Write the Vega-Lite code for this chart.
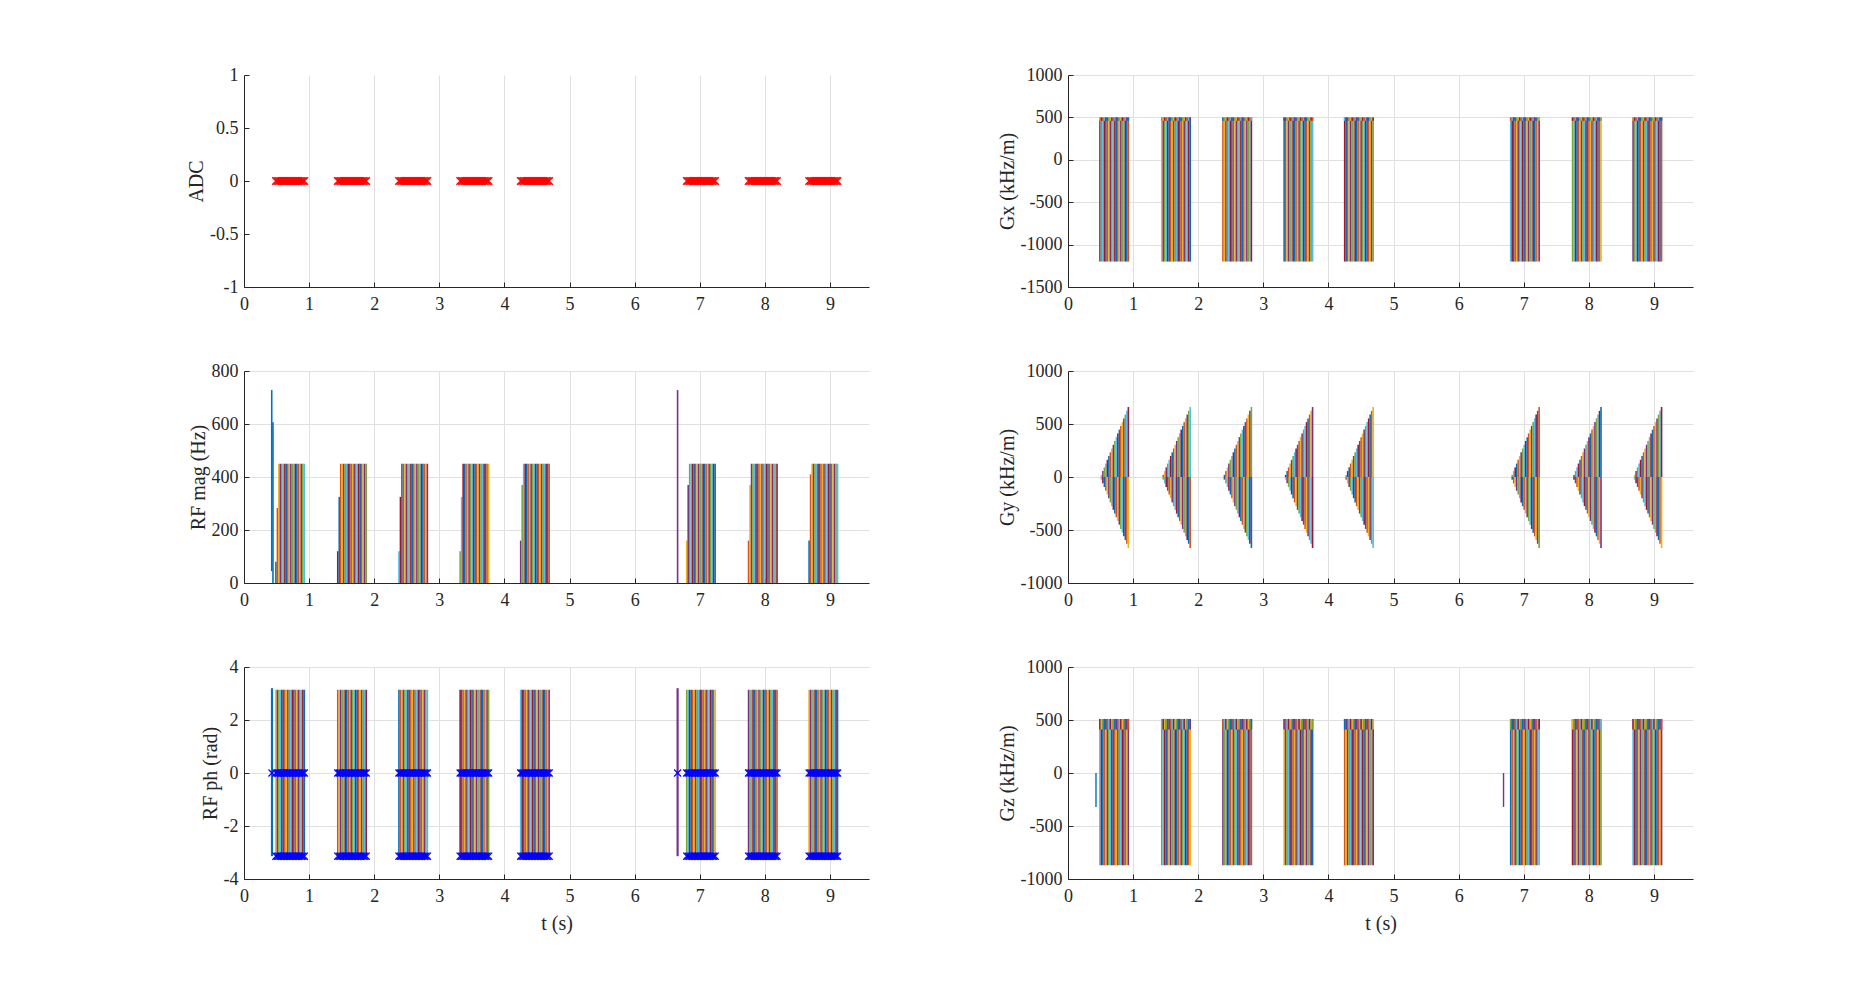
{
"$schema":"https://vega.github.io/schema/vega-lite/v6.json",
"background":"white",
"padding":{"left":186,"top":66,"right":5,"bottom":5},
"config":{
 "font":"Liberation Serif",
 "view":{"stroke":null},
 "axis":{"labelFont":"Liberation Serif","titleFont":"Liberation Serif","labelFontSize":18,"titleFontSize":20,"titleFontWeight":"normal","labelColor":"#262626","titleColor":"#262626","domainColor":"#262626","tickColor":"#262626","gridColor":"#e0e0e0","tickSize":-5,"domainWidth":1,"tickWidth":1,"gridWidth":1,"labelFlush":false},
 "axisX":{"labelPadding":13,"titlePadding":8},
 "axisY":{"labelPadding":11,"titlePadding":3}
},
"datasets":{
"seq":[
{"t":0.490,"s":0,"xl":-1200,"xh":500,"g":0,"gn":0,"zl":-870,"zh":510,"m":80,"pl":-3.14,"ph":3.14},
{"t":0.513,"s":1,"xl":-1200,"xh":500,"g":20,"gn":-25,"zl":-870,"zh":510,"m":283,"pl":-3.14,"ph":3.14},
{"t":0.536,"s":2,"xl":-1200,"xh":500,"g":56,"gn":-60,"zl":-870,"zh":510,"m":450,"pl":-3.14,"ph":3.14},
{"t":0.559,"s":3,"xl":-1200,"xh":500,"g":91,"gn":-95,"zl":-870,"zh":510,"m":450,"pl":-3.14,"ph":3.14},
{"t":0.582,"s":4,"xl":-1200,"xh":500,"g":127,"gn":-130,"zl":-870,"zh":510,"m":450,"pl":-3.14,"ph":3.14},
{"t":0.605,"s":5,"xl":-1200,"xh":500,"g":162,"gn":-165,"zl":-870,"zh":510,"m":450,"pl":-3.14,"ph":3.14},
{"t":0.628,"s":6,"xl":-1200,"xh":500,"g":198,"gn":-200,"zl":-870,"zh":510,"m":450,"pl":-3.14,"ph":3.14},
{"t":0.651,"s":0,"xl":-1200,"xh":500,"g":233,"gn":-240,"zl":-870,"zh":510,"m":450,"pl":-3.14,"ph":3.14},
{"t":0.674,"s":1,"xl":-1200,"xh":500,"g":269,"gn":-275,"zl":-870,"zh":510,"m":450,"pl":-3.14,"ph":3.14},
{"t":0.697,"s":2,"xl":-1200,"xh":500,"g":304,"gn":-310,"zl":-870,"zh":510,"m":450,"pl":-3.14,"ph":3.14},
{"t":0.720,"s":3,"xl":-1200,"xh":500,"g":340,"gn":-345,"zl":-870,"zh":510,"m":450,"pl":-3.14,"ph":3.14},
{"t":0.743,"s":4,"xl":-1200,"xh":500,"g":376,"gn":-380,"zl":-870,"zh":510,"m":450,"pl":-3.14,"ph":3.14},
{"t":0.766,"s":5,"xl":-1200,"xh":500,"g":411,"gn":-415,"zl":-870,"zh":510,"m":450,"pl":-3.14,"ph":3.14},
{"t":0.789,"s":6,"xl":-1200,"xh":500,"g":447,"gn":-450,"zl":-870,"zh":510,"m":450,"pl":-3.14,"ph":3.14},
{"t":0.812,"s":0,"xl":-1200,"xh":500,"g":482,"gn":-490,"zl":-870,"zh":510,"m":450,"pl":-3.14,"ph":3.14},
{"t":0.835,"s":1,"xl":-1200,"xh":500,"g":518,"gn":-525,"zl":-870,"zh":510,"m":450,"pl":-3.14,"ph":3.14},
{"t":0.858,"s":2,"xl":-1200,"xh":500,"g":553,"gn":-560,"zl":-870,"zh":510,"m":450,"pl":-3.14,"ph":3.14},
{"t":0.881,"s":3,"xl":-1200,"xh":500,"g":589,"gn":-595,"zl":-870,"zh":510,"m":450,"pl":-3.14,"ph":3.14},
{"t":0.904,"s":4,"xl":-1200,"xh":500,"g":624,"gn":-630,"zl":-870,"zh":510,"m":450,"pl":-3.14,"ph":3.14},
{"t":0.927,"s":5,"xl":-1200,"xh":500,"g":660,"gn":-670,"zl":-870,"zh":510,"m":450,"pl":-3.14,"ph":3.14},
{"t":1.440,"s":6,"xl":-1200,"xh":500,"g":0,"gn":0,"zl":-870,"zh":510,"m":120,"pl":-3.14,"ph":3.14},
{"t":1.463,"s":0,"xl":-1200,"xh":500,"g":20,"gn":-25,"zl":-870,"zh":510,"m":325,"pl":-3.14,"ph":3.14},
{"t":1.486,"s":1,"xl":-1200,"xh":500,"g":56,"gn":-60,"zl":-870,"zh":510,"m":450,"pl":-3.14,"ph":3.14},
{"t":1.509,"s":2,"xl":-1200,"xh":500,"g":91,"gn":-95,"zl":-870,"zh":510,"m":450,"pl":-3.14,"ph":3.14},
{"t":1.532,"s":3,"xl":-1200,"xh":500,"g":127,"gn":-130,"zl":-870,"zh":510,"m":450,"pl":-3.14,"ph":3.14},
{"t":1.555,"s":4,"xl":-1200,"xh":500,"g":162,"gn":-165,"zl":-870,"zh":510,"m":450,"pl":-3.14,"ph":3.14},
{"t":1.578,"s":5,"xl":-1200,"xh":500,"g":198,"gn":-200,"zl":-870,"zh":510,"m":450,"pl":-3.14,"ph":3.14},
{"t":1.601,"s":6,"xl":-1200,"xh":500,"g":233,"gn":-240,"zl":-870,"zh":510,"m":450,"pl":-3.14,"ph":3.14},
{"t":1.624,"s":0,"xl":-1200,"xh":500,"g":269,"gn":-275,"zl":-870,"zh":510,"m":450,"pl":-3.14,"ph":3.14},
{"t":1.647,"s":1,"xl":-1200,"xh":500,"g":304,"gn":-310,"zl":-870,"zh":510,"m":450,"pl":-3.14,"ph":3.14},
{"t":1.670,"s":2,"xl":-1200,"xh":500,"g":340,"gn":-345,"zl":-870,"zh":510,"m":450,"pl":-3.14,"ph":3.14},
{"t":1.693,"s":3,"xl":-1200,"xh":500,"g":376,"gn":-380,"zl":-870,"zh":510,"m":450,"pl":-3.14,"ph":3.14},
{"t":1.716,"s":4,"xl":-1200,"xh":500,"g":411,"gn":-415,"zl":-870,"zh":510,"m":450,"pl":-3.14,"ph":3.14},
{"t":1.739,"s":5,"xl":-1200,"xh":500,"g":447,"gn":-450,"zl":-870,"zh":510,"m":450,"pl":-3.14,"ph":3.14},
{"t":1.762,"s":6,"xl":-1200,"xh":500,"g":482,"gn":-490,"zl":-870,"zh":510,"m":450,"pl":-3.14,"ph":3.14},
{"t":1.785,"s":0,"xl":-1200,"xh":500,"g":518,"gn":-525,"zl":-870,"zh":510,"m":450,"pl":-3.14,"ph":3.14},
{"t":1.808,"s":1,"xl":-1200,"xh":500,"g":553,"gn":-560,"zl":-870,"zh":510,"m":450,"pl":-3.14,"ph":3.14},
{"t":1.831,"s":2,"xl":-1200,"xh":500,"g":589,"gn":-595,"zl":-870,"zh":510,"m":450,"pl":-3.14,"ph":3.14},
{"t":1.854,"s":3,"xl":-1200,"xh":500,"g":624,"gn":-630,"zl":-870,"zh":510,"m":450,"pl":-3.14,"ph":3.14},
{"t":1.877,"s":4,"xl":-1200,"xh":500,"g":660,"gn":-670,"zl":-870,"zh":510,"m":450,"pl":-3.14,"ph":3.14},
{"t":2.380,"s":5,"xl":-1200,"xh":500,"g":0,"gn":0,"zl":-870,"zh":510,"m":120,"pl":-3.14,"ph":3.14},
{"t":2.403,"s":6,"xl":-1200,"xh":500,"g":20,"gn":-25,"zl":-870,"zh":510,"m":325,"pl":-3.14,"ph":3.14},
{"t":2.426,"s":0,"xl":-1200,"xh":500,"g":56,"gn":-60,"zl":-870,"zh":510,"m":450,"pl":-3.14,"ph":3.14},
{"t":2.449,"s":1,"xl":-1200,"xh":500,"g":91,"gn":-95,"zl":-870,"zh":510,"m":450,"pl":-3.14,"ph":3.14},
{"t":2.472,"s":2,"xl":-1200,"xh":500,"g":127,"gn":-130,"zl":-870,"zh":510,"m":450,"pl":-3.14,"ph":3.14},
{"t":2.495,"s":3,"xl":-1200,"xh":500,"g":162,"gn":-165,"zl":-870,"zh":510,"m":450,"pl":-3.14,"ph":3.14},
{"t":2.518,"s":4,"xl":-1200,"xh":500,"g":198,"gn":-200,"zl":-870,"zh":510,"m":450,"pl":-3.14,"ph":3.14},
{"t":2.541,"s":5,"xl":-1200,"xh":500,"g":233,"gn":-240,"zl":-870,"zh":510,"m":450,"pl":-3.14,"ph":3.14},
{"t":2.564,"s":6,"xl":-1200,"xh":500,"g":269,"gn":-275,"zl":-870,"zh":510,"m":450,"pl":-3.14,"ph":3.14},
{"t":2.587,"s":0,"xl":-1200,"xh":500,"g":304,"gn":-310,"zl":-870,"zh":510,"m":450,"pl":-3.14,"ph":3.14},
{"t":2.610,"s":1,"xl":-1200,"xh":500,"g":340,"gn":-345,"zl":-870,"zh":510,"m":450,"pl":-3.14,"ph":3.14},
{"t":2.633,"s":2,"xl":-1200,"xh":500,"g":376,"gn":-380,"zl":-870,"zh":510,"m":450,"pl":-3.14,"ph":3.14},
{"t":2.656,"s":3,"xl":-1200,"xh":500,"g":411,"gn":-415,"zl":-870,"zh":510,"m":450,"pl":-3.14,"ph":3.14},
{"t":2.679,"s":4,"xl":-1200,"xh":500,"g":447,"gn":-450,"zl":-870,"zh":510,"m":450,"pl":-3.14,"ph":3.14},
{"t":2.702,"s":5,"xl":-1200,"xh":500,"g":482,"gn":-490,"zl":-870,"zh":510,"m":450,"pl":-3.14,"ph":3.14},
{"t":2.725,"s":6,"xl":-1200,"xh":500,"g":518,"gn":-525,"zl":-870,"zh":510,"m":450,"pl":-3.14,"ph":3.14},
{"t":2.748,"s":0,"xl":-1200,"xh":500,"g":553,"gn":-560,"zl":-870,"zh":510,"m":450,"pl":-3.14,"ph":3.14},
{"t":2.771,"s":1,"xl":-1200,"xh":500,"g":589,"gn":-595,"zl":-870,"zh":510,"m":450,"pl":-3.14,"ph":3.14},
{"t":2.794,"s":2,"xl":-1200,"xh":500,"g":624,"gn":-630,"zl":-870,"zh":510,"m":450,"pl":-3.14,"ph":3.14},
{"t":2.817,"s":3,"xl":-1200,"xh":500,"g":660,"gn":-670,"zl":-870,"zh":510,"m":450,"pl":-3.14,"ph":3.14},
{"t":3.320,"s":4,"xl":-1200,"xh":500,"g":0,"gn":0,"zl":-870,"zh":510,"m":120,"pl":-3.14,"ph":3.14},
{"t":3.343,"s":5,"xl":-1200,"xh":500,"g":20,"gn":-25,"zl":-870,"zh":510,"m":325,"pl":-3.14,"ph":3.14},
{"t":3.366,"s":6,"xl":-1200,"xh":500,"g":56,"gn":-60,"zl":-870,"zh":510,"m":450,"pl":-3.14,"ph":3.14},
{"t":3.389,"s":0,"xl":-1200,"xh":500,"g":91,"gn":-95,"zl":-870,"zh":510,"m":450,"pl":-3.14,"ph":3.14},
{"t":3.412,"s":1,"xl":-1200,"xh":500,"g":127,"gn":-130,"zl":-870,"zh":510,"m":450,"pl":-3.14,"ph":3.14},
{"t":3.435,"s":2,"xl":-1200,"xh":500,"g":162,"gn":-165,"zl":-870,"zh":510,"m":450,"pl":-3.14,"ph":3.14},
{"t":3.458,"s":3,"xl":-1200,"xh":500,"g":198,"gn":-200,"zl":-870,"zh":510,"m":450,"pl":-3.14,"ph":3.14},
{"t":3.481,"s":4,"xl":-1200,"xh":500,"g":233,"gn":-240,"zl":-870,"zh":510,"m":450,"pl":-3.14,"ph":3.14},
{"t":3.504,"s":5,"xl":-1200,"xh":500,"g":269,"gn":-275,"zl":-870,"zh":510,"m":450,"pl":-3.14,"ph":3.14},
{"t":3.527,"s":6,"xl":-1200,"xh":500,"g":304,"gn":-310,"zl":-870,"zh":510,"m":450,"pl":-3.14,"ph":3.14},
{"t":3.550,"s":0,"xl":-1200,"xh":500,"g":340,"gn":-345,"zl":-870,"zh":510,"m":450,"pl":-3.14,"ph":3.14},
{"t":3.573,"s":1,"xl":-1200,"xh":500,"g":376,"gn":-380,"zl":-870,"zh":510,"m":450,"pl":-3.14,"ph":3.14},
{"t":3.596,"s":2,"xl":-1200,"xh":500,"g":411,"gn":-415,"zl":-870,"zh":510,"m":450,"pl":-3.14,"ph":3.14},
{"t":3.619,"s":3,"xl":-1200,"xh":500,"g":447,"gn":-450,"zl":-870,"zh":510,"m":450,"pl":-3.14,"ph":3.14},
{"t":3.642,"s":4,"xl":-1200,"xh":500,"g":482,"gn":-490,"zl":-870,"zh":510,"m":450,"pl":-3.14,"ph":3.14},
{"t":3.665,"s":5,"xl":-1200,"xh":500,"g":518,"gn":-525,"zl":-870,"zh":510,"m":450,"pl":-3.14,"ph":3.14},
{"t":3.688,"s":6,"xl":-1200,"xh":500,"g":553,"gn":-560,"zl":-870,"zh":510,"m":450,"pl":-3.14,"ph":3.14},
{"t":3.711,"s":0,"xl":-1200,"xh":500,"g":589,"gn":-595,"zl":-870,"zh":510,"m":450,"pl":-3.14,"ph":3.14},
{"t":3.734,"s":1,"xl":-1200,"xh":500,"g":624,"gn":-630,"zl":-870,"zh":510,"m":450,"pl":-3.14,"ph":3.14},
{"t":3.757,"s":2,"xl":-1200,"xh":500,"g":660,"gn":-670,"zl":-870,"zh":510,"m":450,"pl":-3.14,"ph":3.14},
{"t":4.250,"s":3,"xl":-1200,"xh":500,"g":0,"gn":0,"zl":-870,"zh":510,"m":160,"pl":-3.14,"ph":3.14},
{"t":4.273,"s":4,"xl":-1200,"xh":500,"g":20,"gn":-25,"zl":-870,"zh":510,"m":370,"pl":-3.14,"ph":3.14},
{"t":4.296,"s":5,"xl":-1200,"xh":500,"g":56,"gn":-60,"zl":-870,"zh":510,"m":450,"pl":-3.14,"ph":3.14},
{"t":4.319,"s":6,"xl":-1200,"xh":500,"g":91,"gn":-95,"zl":-870,"zh":510,"m":450,"pl":-3.14,"ph":3.14},
{"t":4.342,"s":0,"xl":-1200,"xh":500,"g":127,"gn":-130,"zl":-870,"zh":510,"m":450,"pl":-3.14,"ph":3.14},
{"t":4.365,"s":1,"xl":-1200,"xh":500,"g":162,"gn":-165,"zl":-870,"zh":510,"m":450,"pl":-3.14,"ph":3.14},
{"t":4.388,"s":2,"xl":-1200,"xh":500,"g":198,"gn":-200,"zl":-870,"zh":510,"m":450,"pl":-3.14,"ph":3.14},
{"t":4.411,"s":3,"xl":-1200,"xh":500,"g":233,"gn":-240,"zl":-870,"zh":510,"m":450,"pl":-3.14,"ph":3.14},
{"t":4.434,"s":4,"xl":-1200,"xh":500,"g":269,"gn":-275,"zl":-870,"zh":510,"m":450,"pl":-3.14,"ph":3.14},
{"t":4.457,"s":5,"xl":-1200,"xh":500,"g":304,"gn":-310,"zl":-870,"zh":510,"m":450,"pl":-3.14,"ph":3.14},
{"t":4.480,"s":6,"xl":-1200,"xh":500,"g":340,"gn":-345,"zl":-870,"zh":510,"m":450,"pl":-3.14,"ph":3.14},
{"t":4.503,"s":0,"xl":-1200,"xh":500,"g":376,"gn":-380,"zl":-870,"zh":510,"m":450,"pl":-3.14,"ph":3.14},
{"t":4.526,"s":1,"xl":-1200,"xh":500,"g":411,"gn":-415,"zl":-870,"zh":510,"m":450,"pl":-3.14,"ph":3.14},
{"t":4.549,"s":2,"xl":-1200,"xh":500,"g":447,"gn":-450,"zl":-870,"zh":510,"m":450,"pl":-3.14,"ph":3.14},
{"t":4.572,"s":3,"xl":-1200,"xh":500,"g":482,"gn":-490,"zl":-870,"zh":510,"m":450,"pl":-3.14,"ph":3.14},
{"t":4.595,"s":4,"xl":-1200,"xh":500,"g":518,"gn":-525,"zl":-870,"zh":510,"m":450,"pl":-3.14,"ph":3.14},
{"t":4.618,"s":5,"xl":-1200,"xh":500,"g":553,"gn":-560,"zl":-870,"zh":510,"m":450,"pl":-3.14,"ph":3.14},
{"t":4.641,"s":6,"xl":-1200,"xh":500,"g":589,"gn":-595,"zl":-870,"zh":510,"m":450,"pl":-3.14,"ph":3.14},
{"t":4.664,"s":0,"xl":-1200,"xh":500,"g":624,"gn":-630,"zl":-870,"zh":510,"m":450,"pl":-3.14,"ph":3.14},
{"t":4.687,"s":1,"xl":-1200,"xh":500,"g":660,"gn":-670,"zl":-870,"zh":510,"m":450,"pl":-3.14,"ph":3.14},
{"t":6.800,"s":2,"xl":-1200,"xh":500,"g":0,"gn":0,"zl":-870,"zh":510,"m":160,"pl":-3.14,"ph":3.14},
{"t":6.823,"s":3,"xl":-1200,"xh":500,"g":20,"gn":-25,"zl":-870,"zh":510,"m":370,"pl":-3.14,"ph":3.14},
{"t":6.846,"s":4,"xl":-1200,"xh":500,"g":56,"gn":-60,"zl":-870,"zh":510,"m":450,"pl":-3.14,"ph":3.14},
{"t":6.869,"s":5,"xl":-1200,"xh":500,"g":91,"gn":-95,"zl":-870,"zh":510,"m":450,"pl":-3.14,"ph":3.14},
{"t":6.892,"s":6,"xl":-1200,"xh":500,"g":127,"gn":-130,"zl":-870,"zh":510,"m":450,"pl":-3.14,"ph":3.14},
{"t":6.915,"s":0,"xl":-1200,"xh":500,"g":162,"gn":-165,"zl":-870,"zh":510,"m":450,"pl":-3.14,"ph":3.14},
{"t":6.938,"s":1,"xl":-1200,"xh":500,"g":198,"gn":-200,"zl":-870,"zh":510,"m":450,"pl":-3.14,"ph":3.14},
{"t":6.961,"s":2,"xl":-1200,"xh":500,"g":233,"gn":-240,"zl":-870,"zh":510,"m":450,"pl":-3.14,"ph":3.14},
{"t":6.984,"s":3,"xl":-1200,"xh":500,"g":269,"gn":-275,"zl":-870,"zh":510,"m":450,"pl":-3.14,"ph":3.14},
{"t":7.007,"s":4,"xl":-1200,"xh":500,"g":304,"gn":-310,"zl":-870,"zh":510,"m":450,"pl":-3.14,"ph":3.14},
{"t":7.030,"s":5,"xl":-1200,"xh":500,"g":340,"gn":-345,"zl":-870,"zh":510,"m":450,"pl":-3.14,"ph":3.14},
{"t":7.053,"s":6,"xl":-1200,"xh":500,"g":376,"gn":-380,"zl":-870,"zh":510,"m":450,"pl":-3.14,"ph":3.14},
{"t":7.076,"s":0,"xl":-1200,"xh":500,"g":411,"gn":-415,"zl":-870,"zh":510,"m":450,"pl":-3.14,"ph":3.14},
{"t":7.099,"s":1,"xl":-1200,"xh":500,"g":447,"gn":-450,"zl":-870,"zh":510,"m":450,"pl":-3.14,"ph":3.14},
{"t":7.122,"s":2,"xl":-1200,"xh":500,"g":482,"gn":-490,"zl":-870,"zh":510,"m":450,"pl":-3.14,"ph":3.14},
{"t":7.145,"s":3,"xl":-1200,"xh":500,"g":518,"gn":-525,"zl":-870,"zh":510,"m":450,"pl":-3.14,"ph":3.14},
{"t":7.168,"s":4,"xl":-1200,"xh":500,"g":553,"gn":-560,"zl":-870,"zh":510,"m":450,"pl":-3.14,"ph":3.14},
{"t":7.191,"s":5,"xl":-1200,"xh":500,"g":589,"gn":-595,"zl":-870,"zh":510,"m":450,"pl":-3.14,"ph":3.14},
{"t":7.214,"s":6,"xl":-1200,"xh":500,"g":624,"gn":-630,"zl":-870,"zh":510,"m":450,"pl":-3.14,"ph":3.14},
{"t":7.237,"s":0,"xl":-1200,"xh":500,"g":660,"gn":-670,"zl":-870,"zh":510,"m":450,"pl":-3.14,"ph":3.14},
{"t":7.750,"s":1,"xl":-1200,"xh":500,"g":0,"gn":0,"zl":-870,"zh":510,"m":160,"pl":-3.14,"ph":3.14},
{"t":7.773,"s":2,"xl":-1200,"xh":500,"g":20,"gn":-25,"zl":-870,"zh":510,"m":370,"pl":-3.14,"ph":3.14},
{"t":7.796,"s":3,"xl":-1200,"xh":500,"g":56,"gn":-60,"zl":-870,"zh":510,"m":450,"pl":-3.14,"ph":3.14},
{"t":7.819,"s":4,"xl":-1200,"xh":500,"g":91,"gn":-95,"zl":-870,"zh":510,"m":450,"pl":-3.14,"ph":3.14},
{"t":7.842,"s":5,"xl":-1200,"xh":500,"g":127,"gn":-130,"zl":-870,"zh":510,"m":450,"pl":-3.14,"ph":3.14},
{"t":7.865,"s":6,"xl":-1200,"xh":500,"g":162,"gn":-165,"zl":-870,"zh":510,"m":450,"pl":-3.14,"ph":3.14},
{"t":7.888,"s":0,"xl":-1200,"xh":500,"g":198,"gn":-200,"zl":-870,"zh":510,"m":450,"pl":-3.14,"ph":3.14},
{"t":7.911,"s":1,"xl":-1200,"xh":500,"g":233,"gn":-240,"zl":-870,"zh":510,"m":450,"pl":-3.14,"ph":3.14},
{"t":7.934,"s":2,"xl":-1200,"xh":500,"g":269,"gn":-275,"zl":-870,"zh":510,"m":450,"pl":-3.14,"ph":3.14},
{"t":7.957,"s":3,"xl":-1200,"xh":500,"g":304,"gn":-310,"zl":-870,"zh":510,"m":450,"pl":-3.14,"ph":3.14},
{"t":7.980,"s":4,"xl":-1200,"xh":500,"g":340,"gn":-345,"zl":-870,"zh":510,"m":450,"pl":-3.14,"ph":3.14},
{"t":8.003,"s":5,"xl":-1200,"xh":500,"g":376,"gn":-380,"zl":-870,"zh":510,"m":450,"pl":-3.14,"ph":3.14},
{"t":8.026,"s":6,"xl":-1200,"xh":500,"g":411,"gn":-415,"zl":-870,"zh":510,"m":450,"pl":-3.14,"ph":3.14},
{"t":8.049,"s":0,"xl":-1200,"xh":500,"g":447,"gn":-450,"zl":-870,"zh":510,"m":450,"pl":-3.14,"ph":3.14},
{"t":8.072,"s":1,"xl":-1200,"xh":500,"g":482,"gn":-490,"zl":-870,"zh":510,"m":450,"pl":-3.14,"ph":3.14},
{"t":8.095,"s":2,"xl":-1200,"xh":500,"g":518,"gn":-525,"zl":-870,"zh":510,"m":450,"pl":-3.14,"ph":3.14},
{"t":8.118,"s":3,"xl":-1200,"xh":500,"g":553,"gn":-560,"zl":-870,"zh":510,"m":450,"pl":-3.14,"ph":3.14},
{"t":8.141,"s":4,"xl":-1200,"xh":500,"g":589,"gn":-595,"zl":-870,"zh":510,"m":450,"pl":-3.14,"ph":3.14},
{"t":8.164,"s":5,"xl":-1200,"xh":500,"g":624,"gn":-630,"zl":-870,"zh":510,"m":450,"pl":-3.14,"ph":3.14},
{"t":8.187,"s":6,"xl":-1200,"xh":500,"g":660,"gn":-670,"zl":-870,"zh":510,"m":450,"pl":-3.14,"ph":3.14},
{"t":8.680,"s":0,"xl":-1200,"xh":500,"g":0,"gn":0,"zl":-870,"zh":510,"m":160,"pl":-3.14,"ph":3.14},
{"t":8.703,"s":1,"xl":-1200,"xh":500,"g":20,"gn":-25,"zl":-870,"zh":510,"m":410,"pl":-3.14,"ph":3.14},
{"t":8.726,"s":2,"xl":-1200,"xh":500,"g":56,"gn":-60,"zl":-870,"zh":510,"m":450,"pl":-3.14,"ph":3.14},
{"t":8.749,"s":3,"xl":-1200,"xh":500,"g":91,"gn":-95,"zl":-870,"zh":510,"m":450,"pl":-3.14,"ph":3.14},
{"t":8.772,"s":4,"xl":-1200,"xh":500,"g":127,"gn":-130,"zl":-870,"zh":510,"m":450,"pl":-3.14,"ph":3.14},
{"t":8.795,"s":5,"xl":-1200,"xh":500,"g":162,"gn":-165,"zl":-870,"zh":510,"m":450,"pl":-3.14,"ph":3.14},
{"t":8.818,"s":6,"xl":-1200,"xh":500,"g":198,"gn":-200,"zl":-870,"zh":510,"m":450,"pl":-3.14,"ph":3.14},
{"t":8.841,"s":0,"xl":-1200,"xh":500,"g":233,"gn":-240,"zl":-870,"zh":510,"m":450,"pl":-3.14,"ph":3.14},
{"t":8.864,"s":1,"xl":-1200,"xh":500,"g":269,"gn":-275,"zl":-870,"zh":510,"m":450,"pl":-3.14,"ph":3.14},
{"t":8.887,"s":2,"xl":-1200,"xh":500,"g":304,"gn":-310,"zl":-870,"zh":510,"m":450,"pl":-3.14,"ph":3.14},
{"t":8.910,"s":3,"xl":-1200,"xh":500,"g":340,"gn":-345,"zl":-870,"zh":510,"m":450,"pl":-3.14,"ph":3.14},
{"t":8.933,"s":4,"xl":-1200,"xh":500,"g":376,"gn":-380,"zl":-870,"zh":510,"m":450,"pl":-3.14,"ph":3.14},
{"t":8.956,"s":5,"xl":-1200,"xh":500,"g":411,"gn":-415,"zl":-870,"zh":510,"m":450,"pl":-3.14,"ph":3.14},
{"t":8.979,"s":6,"xl":-1200,"xh":500,"g":447,"gn":-450,"zl":-870,"zh":510,"m":450,"pl":-3.14,"ph":3.14},
{"t":9.002,"s":0,"xl":-1200,"xh":500,"g":482,"gn":-490,"zl":-870,"zh":510,"m":450,"pl":-3.14,"ph":3.14},
{"t":9.025,"s":1,"xl":-1200,"xh":500,"g":518,"gn":-525,"zl":-870,"zh":510,"m":450,"pl":-3.14,"ph":3.14},
{"t":9.048,"s":2,"xl":-1200,"xh":500,"g":553,"gn":-560,"zl":-870,"zh":510,"m":450,"pl":-3.14,"ph":3.14},
{"t":9.071,"s":3,"xl":-1200,"xh":500,"g":589,"gn":-595,"zl":-870,"zh":510,"m":450,"pl":-3.14,"ph":3.14},
{"t":9.094,"s":4,"xl":-1200,"xh":500,"g":624,"gn":-630,"zl":-870,"zh":510,"m":450,"pl":-3.14,"ph":3.14},
{"t":9.117,"s":5,"xl":-1200,"xh":500,"g":660,"gn":-670,"zl":-870,"zh":510,"m":450,"pl":-3.14,"ph":3.14}
],
"spk":[
{"p":"rfm","t":0.426,"a":45,"b":728,"s":0},
{"p":"rfm","t":0.445,"a":0,"b":607,"s":0},
{"p":"rfm","t":6.66,"a":0,"b":728,"s":3},
{"p":"rfp","t":0.43,"a":-3.14,"b":3.2,"s":0},
{"p":"rfp","t":6.66,"a":-3.14,"b":3.2,"s":3},
{"p":"gz","t":0.43,"a":-320,"b":0,"s":0},
{"p":"gz","t":6.69,"a":-320,"b":0,"s":3}
]
},
"columns":2,
"spacing":{"row":84,"column":199},
"bounds":"flush",
"resolve":{"scale":{"color":"independent"}},
"concat":[
{
 "width":625,"height":212,
 "data":{"name":"seq"},
 "mark":{"type":"point","shape":"M-1,-1L1,1M1,-1L-1,1","filled":false,"color":"#FF0000","strokeWidth":1.2,"size":56,"opacity":1},
 "encoding":{
  "x":{"field":"t","type":"quantitative","scale":{"domain":[0,9.6],"nice":false},"axis":{"values":[0,1,2,3,4,5,6,7,8,9],"title":null,"labelExpr":"'' + datum.value"}},
  "y":{"datum":0,"type":"quantitative","scale":{"domain":[-1,1],"nice":false},"axis":{"values":[-1,-0.5,0,0.5,1],"title":"ADC","labelExpr":"'' + datum.value"}}
 }
},
{
 "width":625,"height":212,
 "resolve":{"scale":{"color":"independent"}},
 "layer":[
  {
   "data":{"name":"seq"},
   "mark":{"type":"rule","strokeWidth":1.6},
   "encoding":{
    "x":{"field":"t","type":"quantitative","scale":{"domain":[0,9.6],"nice":false},"axis":{"values":[0,1,2,3,4,5,6,7,8,9],"title":null,"labelExpr":"'' + datum.value"}},
    "y":{"field":"xl","type":"quantitative","title":"Gx (kHz/m)","scale":{"domain":[-1500,1000],"nice":false},"axis":{"values":[-1500,-1000,-500,0,500,1000],"labelExpr":"'' + datum.value"}},
    "y2":{"field":"xh"},
    "color":{"field":"s","type":"nominal","scale":{"range":["#7E2F8E","#77AC30","#4DBEEE","#A2142F","#0072BD","#D95319","#EDB120"]},"legend":null}
   }
  },
  {
   "data":{"name":"seq"},
   "mark":{"type":"rule","strokeWidth":1.6},
   "encoding":{
    "x":{"field":"t","type":"quantitative"},
    "y":{"field":"xh","type":"quantitative","title":"Gx (kHz/m)"},
    "y2":{"datum":460},
    "color":{"field":"s","type":"nominal","scale":{"range":["#EDB120","#A2142F","#D95319","#4DBEEE","#7E2F8E","#0072BD","#77AC30"]},"legend":null}
   }
  }
 ]
},
{
 "width":625,"height":212,
 "resolve":{"scale":{"color":"independent"}},
 "layer":[
  {
   "data":{"name":"seq"},
   "mark":{"type":"rule","strokeWidth":1.6},
   "encoding":{
    "x":{"field":"t","type":"quantitative","scale":{"domain":[0,9.6],"nice":false},"axis":{"values":[0,1,2,3,4,5,6,7,8,9],"title":null,"labelExpr":"'' + datum.value"}},
    "y":{"field":"m","type":"quantitative","title":"RF mag (Hz)","scale":{"domain":[0,800],"nice":false},"axis":{"values":[0,200,400,600,800],"labelExpr":"'' + datum.value"}},
    "y2":{"datum":0},
    "color":{"field":"s","type":"nominal","scale":{"range":["#0072BD","#D95319","#EDB120","#7E2F8E","#77AC30","#4DBEEE","#A2142F"]},"legend":null}
   }
  },
  {
   "data":{"name":"spk"},
   "transform":[{"filter":"datum.p == 'rfm'"}],
   "mark":{"type":"rule","strokeWidth":1.6},
   "encoding":{
    "x":{"field":"t","type":"quantitative"},
    "y":{"field":"a","type":"quantitative","title":"RF mag (Hz)"},
    "y2":{"field":"b"},
    "color":{"field":"s","type":"nominal","scale":{"domain":[0,3],"range":["#0072BD","#7E2F8E"]},"legend":null}
   }
  }
 ]
},
{
 "width":625,"height":212,
 "resolve":{"scale":{"color":"independent"}},
 "layer":[
  {
   "data":{"name":"seq"},
   "mark":{"type":"rule","strokeWidth":1.6},
   "encoding":{
    "x":{"field":"t","type":"quantitative","scale":{"domain":[0,9.6],"nice":false},"axis":{"values":[0,1,2,3,4,5,6,7,8,9],"title":null,"labelExpr":"'' + datum.value"}},
    "y":{"field":"g","type":"quantitative","title":"Gy (kHz/m)","scale":{"domain":[-1000,1000],"nice":false},"axis":{"values":[-1000,-500,0,500,1000],"labelExpr":"'' + datum.value"}},
    "y2":{"datum":0},
    "color":{"field":"s","type":"nominal","scale":{"range":["#D95319","#EDB120","#7E2F8E","#77AC30","#4DBEEE","#A2142F","#0072BD"]},"legend":null}
   }
  },
  {
   "data":{"name":"seq"},
   "mark":{"type":"rule","strokeWidth":1.6},
   "encoding":{
    "x":{"field":"t","type":"quantitative"},
    "y":{"field":"gn","type":"quantitative","title":"Gy (kHz/m)"},
    "y2":{"datum":0},
    "color":{"field":"s","type":"nominal","scale":{"range":["#77AC30","#4DBEEE","#A2142F","#0072BD","#D95319","#EDB120","#7E2F8E"]},"legend":null}
   }
  }
 ]
},
{
 "width":625,"height":212,
 "resolve":{"scale":{"color":"independent"}},
 "layer":[
  {
   "data":{"name":"seq"},
   "mark":{"type":"rule","strokeWidth":1.6},
   "encoding":{
    "x":{"field":"t","type":"quantitative","title":"t (s)","scale":{"domain":[0,9.6],"nice":false},"axis":{"values":[0,1,2,3,4,5,6,7,8,9],"labelExpr":"'' + datum.value"}},
    "y":{"field":"pl","type":"quantitative","title":"RF ph (rad)","scale":{"domain":[-4,4],"nice":false},"axis":{"values":[-4,-2,0,2,4],"labelExpr":"'' + datum.value"}},
    "y2":{"field":"ph"},
    "color":{"field":"s","type":"nominal","scale":{"range":["#EDB120","#7E2F8E","#77AC30","#4DBEEE","#A2142F","#0072BD","#D95319"]},"legend":null}
   }
  },
  {
   "data":{"name":"spk"},
   "transform":[{"filter":"datum.p == 'rfp'"}],
   "mark":{"type":"rule","strokeWidth":2.2},
   "encoding":{
    "x":{"field":"t","type":"quantitative","title":"t (s)"},
    "y":{"field":"a","type":"quantitative","title":"RF ph (rad)"},
    "y2":{"field":"b"},
    "color":{"field":"s","type":"nominal","scale":{"domain":[0,3],"range":["#0072BD","#7E2F8E"]},"legend":null}
   }
  },
  {
   "data":{"name":"seq"},
   "mark":{"type":"point","shape":"M-1,-1L1,1M1,-1L-1,1","filled":false,"color":"#0000FF","strokeWidth":1.2,"size":50,"opacity":1},
   "encoding":{
    "x":{"field":"t","type":"quantitative","title":"t (s)"},
    "y":{"datum":0,"type":"quantitative"}
   }
  },
  {
   "data":{"name":"seq"},
   "mark":{"type":"point","shape":"M-1,-1L1,1M1,-1L-1,1","filled":false,"color":"#0000FF","strokeWidth":1.2,"size":50,"opacity":1},
   "encoding":{
    "x":{"field":"t","type":"quantitative","title":"t (s)"},
    "y":{"datum":-3.14,"type":"quantitative"}
   }
  },
  {
   "data":{"name":"spk"},
   "transform":[{"filter":"datum.p == 'rfp'"}],
   "mark":{"type":"point","shape":"M-1,-1L1,1M1,-1L-1,1","filled":false,"color":"#0000FF","strokeWidth":1.2,"size":50,"opacity":1},
   "encoding":{
    "x":{"field":"t","type":"quantitative","title":"t (s)"},
    "y":{"datum":0,"type":"quantitative"}
   }
  }
 ]
},
{
 "width":625,"height":212,
 "resolve":{"scale":{"color":"independent"}},
 "layer":[
  {
   "data":{"name":"seq"},
   "mark":{"type":"rule","strokeWidth":1.6},
   "encoding":{
    "x":{"field":"t","type":"quantitative","title":"t (s)","scale":{"domain":[0,9.6],"nice":false},"axis":{"values":[0,1,2,3,4,5,6,7,8,9],"labelExpr":"'' + datum.value"}},
    "y":{"field":"zl","type":"quantitative","title":"Gz (kHz/m)","scale":{"domain":[-1000,1000],"nice":false},"axis":{"values":[-1000,-500,0,500,1000],"labelExpr":"'' + datum.value"}},
    "y2":{"field":"zh"},
    "color":{"field":"s","type":"nominal","scale":{"range":["#4DBEEE","#A2142F","#0072BD","#D95319","#EDB120","#7E2F8E","#77AC30"]},"legend":null}
   }
  },
  {
   "data":{"name":"seq"},
   "mark":{"type":"rule","strokeWidth":1.6},
   "encoding":{
    "x":{"field":"t","type":"quantitative","title":"t (s)"},
    "y":{"field":"zh","type":"quantitative","title":"Gz (kHz/m)"},
    "y2":{"datum":410},
    "color":{"field":"s","type":"nominal","scale":{"range":["#A2142F","#EDB120","#77AC30","#0072BD","#7E2F8E","#D95319","#4DBEEE"]},"legend":null}
   }
  },
  {
   "data":{"name":"spk"},
   "transform":[{"filter":"datum.p == 'gz'"}],
   "mark":{"type":"rule","strokeWidth":1.4},
   "encoding":{
    "x":{"field":"t","type":"quantitative","title":"t (s)"},
    "y":{"field":"a","type":"quantitative","title":"Gz (kHz/m)"},
    "y2":{"field":"b"},
    "color":{"field":"s","type":"nominal","scale":{"domain":[0,3],"range":["#0072BD","#7E2F8E"]},"legend":null}
   }
  }
 ]
}
]
}
